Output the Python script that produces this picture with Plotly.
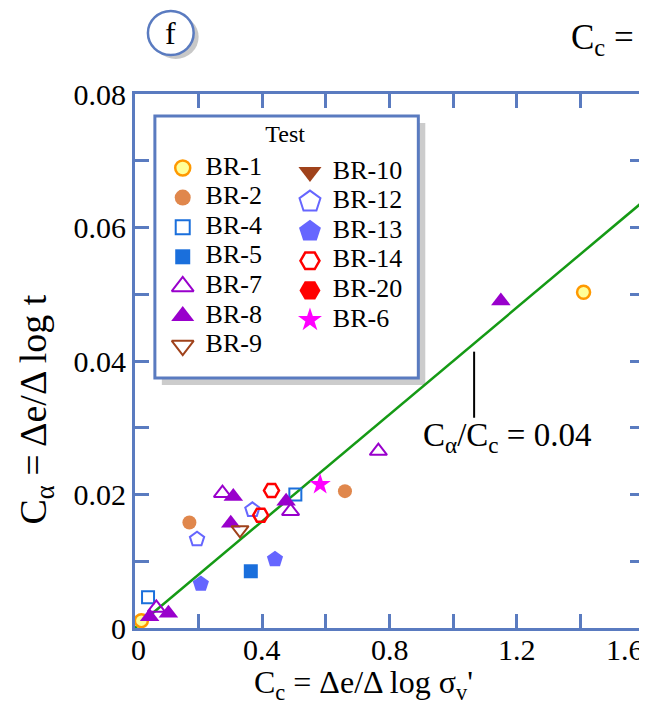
import plotly.graph_objects as go

# ---------------- data ----------------
series_names = ["BR-1", "BR-2", "BR-4", "BR-5", "BR-7", "BR-8", "BR-9",
                "BR-10", "BR-12", "BR-13", "BR-14", "BR-20", "BR-6"]

br1_cc = [0.02, 1.41]
br1_ca = [0.0011, 0.0503]
br2_cc = [0.171, 0.660]
br2_ca = [0.0158, 0.0205]
br4_cc = [0.041, 0.504]
br4_ca = [0.0046, 0.0200]
br5_cc = [0.364]
br5_ca = [0.0085]
br7_cc = [0.067, 0.275, 0.489, 0.765]
br7_ca = [0.0030, 0.0202, 0.0175, 0.0265]
br8_cc = [0.046, 0.105, 0.301, 0.309, 0.475, 1.15]
br8_ca = [0.0017, 0.0022, 0.0157, 0.0197, 0.0190, 0.0490]
br9_cc = [0.330]
br9_ca = [0.0147]
br10_cc = []
br10_ca = []
br12_cc = [0.195, 0.369]
br12_ca = [0.0133, 0.0177]
br13_cc = [0.207, 0.440]
br13_ca = [0.0066, 0.0103]
br14_cc = [0.429, 0.395]
br14_ca = [0.0206, 0.0169]
br20_cc = []
br20_ca = []
br6_cc = [0.582]
br6_ca = [0.0215]

ratio_line_cc = [0.0, 1.6]
ratio_line_ca = [0.0, 0.064]

x_range = [0, 1.6]
y_range = [0, 0.08]
x_tickvals = [0, 0.2, 0.4, 0.6, 0.8, 1.0, 1.2, 1.4, 1.6]
x_ticktext = ["0", "", "0.4", "", "0.8", "", "1.2", "", "1.6"]
y_tickvals = [0, 0.01, 0.02, 0.03, 0.04, 0.05, 0.06, 0.07, 0.08]
y_ticktext = ["0", "", "0.02", "", "0.04", "", "0.06", "", "0.08"]

# ---------------- styles ----------------
FONT = "Liberation Serif"
FRAME = "#5a7bc0"
W, H = 647, 706
ML, MR, MT, MB = 127, 8, 86, 86
PW, PH = W - ML - MR, H - MT - MB

styles = {
    "BR-1":  dict(symbol="circle", color="#ffff99", line="#ff9900", lw=2.5, size=13, lsize=15),
    "BR-2":  dict(symbol="circle", color="#e0874c", line="#e0874c", lw=0, size=14, lsize=16),
    "BR-4":  dict(symbol="square-open", color="#1a6fdc", line="#1a6fdc", lw=2, size=12, lsize=14),
    "BR-5":  dict(symbol="square", color="#1a6fdc", line="#1a6fdc", lw=0, size=14, lsize=15),
    "BR-7":  dict(symbol="triangle-up-open", color="#9900cc", line="#9900cc", lw=2, size=15, lsize=19),
    "BR-8":  dict(symbol="triangle-up", color="#9900cc", line="#9900cc", lw=0, size=17, lsize=20),
    "BR-9":  dict(symbol="triangle-down-open", color="#a0421b", line="#a0421b", lw=2, size=15, lsize=19),
    "BR-10": dict(symbol="triangle-down", color="#a0421b", line="#a0421b", lw=0, size=17, lsize=20),
    "BR-12": dict(symbol="pentagon-open", color="#6666ff", line="#6666ff", lw=2, size=15, lsize=22),
    "BR-13": dict(symbol="pentagon", color="#6666ff", line="#6666ff", lw=0, size=17, lsize=23),
    "BR-14": dict(symbol="hexagon2-open", color="#ff0000", line="#ff0000", lw=2.5, size=15, lsize=19),
    "BR-20": dict(symbol="hexagon2", color="#ff0000", line="#ff0000", lw=0, size=16, lsize=21),
    "BR-6":  dict(symbol="star", color="#ff00ff", line="#ff00ff", lw=0, size=16, lsize=18),
}

data = {
    "BR-1": (br1_cc, br1_ca), "BR-2": (br2_cc, br2_ca), "BR-4": (br4_cc, br4_ca),
    "BR-5": (br5_cc, br5_ca), "BR-7": (br7_cc, br7_ca), "BR-8": (br8_cc, br8_ca),
    "BR-9": (br9_cc, br9_ca), "BR-10": (br10_cc, br10_ca), "BR-12": (br12_cc, br12_ca),
    "BR-13": (br13_cc, br13_ca), "BR-14": (br14_cc, br14_ca), "BR-20": (br20_cc, br20_ca),
    "BR-6": (br6_cc, br6_ca),
}

def px_x(p):
    return (p - ML) / PW

def px_y(p):
    return (H - MB - p) / PH

fig = go.Figure()

# reference line Ca/Cc = 0.04
fig.add_trace(go.Scatter(x=ratio_line_cc, y=ratio_line_ca, mode="lines",
                         line=dict(color="#159a15", width=2.5),
                         showlegend=False, hoverinfo="skip"))

for name in series_names:
    st = styles[name]
    xs, ys = data[name]
    if not xs:
        continue
    fig.add_trace(go.Scatter(
        x=xs, y=ys, mode="markers", name=name, showlegend=False,
        marker=dict(symbol=st["symbol"], size=st["size"], color=st["color"],
                    line=dict(color=st["line"], width=st["lw"]))))

# ---------------- hand-built two-column legend ----------------
LEG_X0, LEG_DX = 175, 128          # symbol column positions (px)
LEG_Y0, LEG_DY, LEG_SHIFT = 160, 29.6, 4
ROWS = 7
leg_tx, leg_ty = [], []
for i, name in enumerate(series_names):
    col, row = divmod(i, ROWS)
    st = styles[name]
    lx = LEG_X0 + col * LEG_DX
    ly = LEG_Y0 + row * LEG_DY + col * LEG_SHIFT
    fig.add_trace(go.Scatter(
        x=[lx], y=[ly], xaxis="x2", yaxis="y2", mode="markers",
        showlegend=False, hoverinfo="skip",
        marker=dict(symbol=st["symbol"], size=st["lsize"], color=st["color"],
                    line=dict(color=st["line"], width=st["lw"]))))
    leg_tx.append(lx + 23)
    leg_ty.append(ly)

fig.add_trace(go.Scatter(
    x=leg_tx, y=leg_ty, xaxis="x2", yaxis="y2", mode="text",
    text=series_names, textposition="middle right",
    textfont=dict(family=FONT, size=26, color="black"),
    showlegend=False, hoverinfo="skip"))
fig.add_trace(go.Scatter(
    x=[278], y=[128], xaxis="x2", yaxis="y2", mode="text",
    text=["Test"], textposition="middle center",
    textfont=dict(family=FONT, size=24, color="black"),
    showlegend=False, hoverinfo="skip"))

shapes = []
# legend box shadow + box
shapes.append(dict(type="rect", xref="paper", yref="paper", layer="below",
                   x0=px_x(154), x1=px_x(419), y0=px_y(377), y1=px_y(115),
                   fillcolor="#cccccc", line=dict(width=0)))
shapes.append(dict(type="rect", xref="paper", yref="paper", layer="below",
                   x0=px_x(147), x1=px_x(412), y0=px_y(370), y1=px_y(108),
                   fillcolor="white", line=dict(color=FRAME, width=3)))
# panel label circle
shapes.append(dict(type="circle", xref="paper", yref="paper", layer="above",
                   x0=px_x(145), x1=px_x(191), y0=px_y(51), y1=px_y(7),
                   fillcolor="#c8c8c8", line=dict(width=0)))
shapes.append(dict(type="circle", xref="paper", yref="paper", layer="above",
                   x0=px_x(140), x1=px_x(186), y0=px_y(47), y1=px_y(3),
                   fillcolor="white", line=dict(color=FRAME, width=2.5)))
# pointer line for the ratio annotation
shapes.append(dict(type="line", xref="x", yref="y", layer="above",
                   x0=1.066, x1=1.066, y0=0.0414, y1=0.0315,
                   line=dict(color="black", width=2)))

annotations = [
    dict(x=px_x(163), y=px_y(25), xref="paper", yref="paper", text="f",
         xanchor="center", yanchor="middle",
         showarrow=False, font=dict(family=FONT, size=32, color="black")),
    dict(x=1.17, y=0.0285, xref="x", yref="y",
         xanchor="center", yanchor="middle",
         text="C<sub>α</sub>/C<sub>c</sub> = 0.04", showarrow=False,
         font=dict(family=FONT, size=33, color="black")),
    dict(x=px_x(357), y=px_y(676), xref="paper", yref="paper",
         xanchor="center", yanchor="middle",
         text="C<sub>c</sub> = Δe/Δ log σ<sub>v</sub>'", showarrow=False,
         font=dict(family=FONT, size=32, color="black")),
    dict(x=px_x(27), y=px_y(402), xref="paper", yref="paper", textangle=-90,
         xanchor="center", yanchor="middle",
         text="C<sub>α</sub> = Δe/Δ log t", showarrow=False,
         font=dict(family=FONT, size=38, color="black")),
    dict(x=px_x(564), y=px_y(31), xref="paper", yref="paper", xanchor="left",
         yanchor="middle",
         text="C<sub>c</sub> =", showarrow=False,
         font=dict(family=FONT, size=35, color="black")),
]

# x tick labels placed just below the frame (last one nudged inside the page)
for v, t in zip(x_tickvals, x_ticktext):
    if t:
        frac = (v - x_range[0]) / (x_range[1] - x_range[0])
        annotations.append(dict(x=frac, y=px_y(641), xref="paper", yref="paper",
                                xanchor="center", yanchor="middle", text=t,
                                xshift=(-19 if v == x_tickvals[-1] else 3 if v == 0 else 0),
                                showarrow=False,
                                font=dict(family=FONT, size=30, color="black")))

axis_common = dict(showgrid=False, zeroline=False, showline=True, linecolor=FRAME,
                   linewidth=3, mirror="ticks", ticks="inside", ticklen=14,
                   tickwidth=3, tickcolor=FRAME,
                   tickfont=dict(family=FONT, size=30, color="black"))

fig.update_layout(
    width=W, height=H, autosize=False,
    margin=dict(l=ML, r=MR, t=MT, b=MB, pad=0),
    paper_bgcolor="white", plot_bgcolor="white",
    showlegend=False,
    xaxis=dict(range=x_range, tickmode="array", tickvals=x_tickvals,
               ticktext=x_ticktext, showticklabels=False, **axis_common),
    yaxis=dict(range=y_range, tickmode="array", tickvals=y_tickvals,
               ticktext=y_ticktext, **axis_common),
    xaxis2=dict(range=[ML, W - MR], overlaying="x", visible=False),
    yaxis2=dict(range=[H - MB, MT], overlaying="y", visible=False),
    shapes=shapes,
    annotations=annotations,
)

fig.write_html("out.html")
